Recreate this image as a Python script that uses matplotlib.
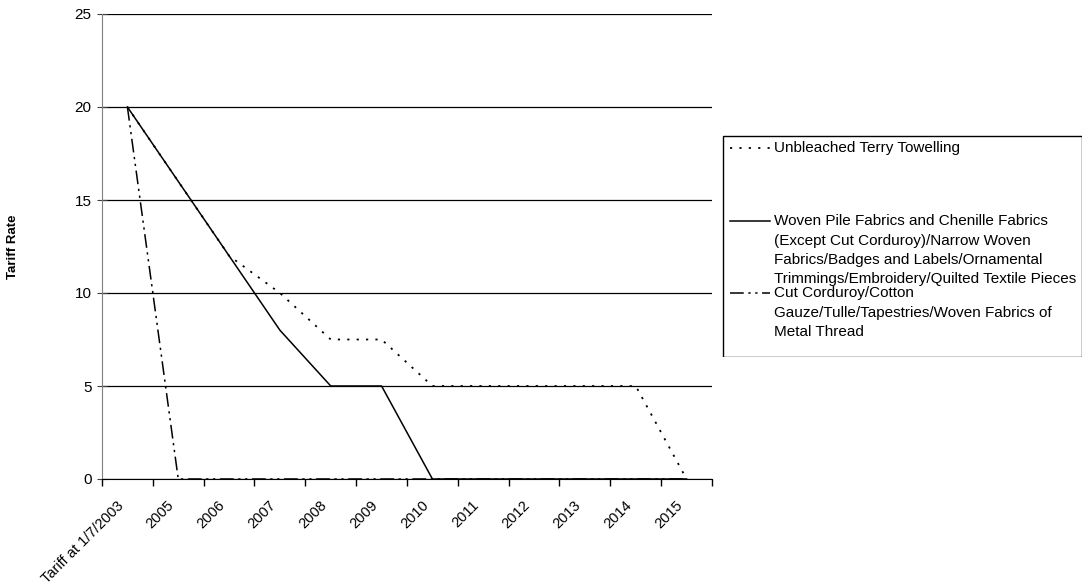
import matplotlib.pyplot as plt
from matplotlib.patches import Rectangle

plt.rcParams['font.family'] = ['Liberation Sans', 'DejaVu Sans']

categories = ['Tariff at 1/7/2003', '2005', '2006', '2007', '2008', '2009',
              '2010', '2011', '2012', '2013', '2014', '2015']
terry = [20, 16, 12, 10, 7.5, 7.5, 5, 5, 5, 5, 5, 0]
woven_pile = [20, 16, 12, 8, 5, 5, 0, 0, 0, 0, 0, 0]
cut_corduroy = [20, 0, 0, 0, 0, 0, 0, 0, 0, 0, 0, 0]

labels = ['Unbleached Terry Towelling',
          'Woven Pile Fabrics and Chenille Fabrics\n(Except Cut Corduroy)/Narrow Woven\n'
          'Fabrics/Badges and Labels/Ornamental\nTrimmings/Embroidery/Quilted Textile Pieces',
          'Cut Corduroy/Cotton\nGauze/Tulle/Tapestries/Woven Fabrics of\nMetal Thread']

dot_style = dict(linestyle=(0, (1.2, 4)), color='black', lw=1.3)
solid_style = dict(linestyle='-', color='black', lw=1.1)
dashdot_style = dict(linestyle=(0, (9, 3, 1.5, 3, 1.5, 3)), color='black', lw=1.1)

fig = plt.figure(figsize=(10.83, 5.86), dpi=100)
ax = fig.add_axes([102 / 1083, 1 - 479 / 586, 610 / 1083, 465 / 586])

x = list(range(len(categories)))
ax.plot(x, cut_corduroy, **dashdot_style)
ax.plot(x, woven_pile, **solid_style)
ax.plot(x, terry, **dot_style)

ax.set_xlim(-0.5, len(categories) - 0.5)
ax.set_ylim(0, 25)
ax.set_yticks(range(0, 26, 5))
ax.yaxis.grid(True, color='black', lw=0.9)
ax.set_axisbelow(True)

# boundary ticks without labels, labels a little left of each category centre
ax.set_xticks([i - 0.5 for i in range(len(categories) + 1)])
ax.set_xticklabels([])
ax.set_xticks([i - 0.22 for i in x], minor=True)
ax.set_xticklabels(categories, minor=True, rotation=45, ha='right',
                   rotation_mode='anchor', fontsize=10.5)
ax.tick_params(axis='x', which='minor', length=0, pad=14)
ax.tick_params(axis='x', which='major', length=5, direction='out', width=1)
ax.tick_params(axis='y', length=7, direction='inout', labelsize=11,
               color='#404040', pad=4)

for s in ['top', 'right']:
    ax.spines[s].set_visible(False)
ax.spines['left'].set_color('gray')
ax.spines['bottom'].set_color('black')

ax.set_ylabel('Tariff Rate', fontsize=9.5, fontweight='bold')
ax.yaxis.set_label_coords(-0.136, 0.5)

# legend drawn by hand so handles line up with the first text line
lg = fig.add_axes([722 / 1083, 1 - 357 / 586, 360 / 1083, 222 / 586])
lg.set_xlim(0, 360)
lg.set_ylim(222, 0)
lg.axis('off')
lg.add_patch(Rectangle((0.5, 0.5), 359, 221, fill=False, edgecolor='black', lw=1))
styles = [dot_style, solid_style, dashdot_style]
rows = [13, 86, 158]
for lab, st, ry in zip(labels, styles, rows):
    lg.plot([8, 48], [ry, ry], **st)
    lg.text(52, ry - 7, lab, fontsize=11, va='top', ha='left', linespacing=1.5,
            transform=lg.transData)

fig.savefig('out.png', dpi=100)
